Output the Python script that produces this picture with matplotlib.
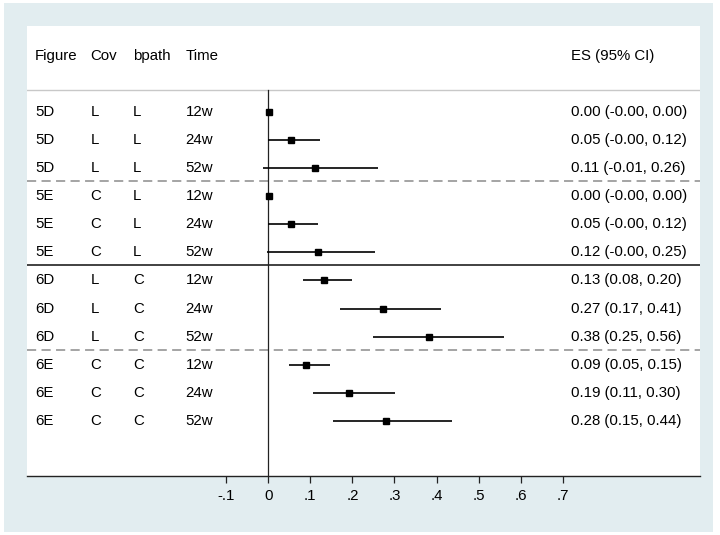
import matplotlib
matplotlib.use("Agg")
import matplotlib.pyplot as plt

plt.rcParams['font.family'] = ['Liberation Sans', 'DejaVu Sans']

figure_ids = ["5D", "5D", "5D", "5E", "5E", "5E", "6D", "6D", "6D", "6E", "6E", "6E"]
cov = ["L", "L", "L", "C", "C", "C", "L", "L", "L", "C", "C", "C"]
bpath = ["L", "L", "L", "L", "L", "L", "C", "C", "C", "C", "C", "C"]
time = ["12w", "24w", "52w"] * 4
es = [0.001, 0.054, 0.112, 0.001, 0.054, 0.118, 0.132, 0.272, 0.381, 0.090, 0.191, 0.280]
lo = [-0.001, -0.001, -0.012, -0.001, -0.001, -0.003, 0.082, 0.170, 0.250, 0.050, 0.107, 0.154]
hi = [0.001, 0.124, 0.262, 0.001, 0.118, 0.253, 0.200, 0.411, 0.560, 0.146, 0.302, 0.436]
xticks = [-0.1, 0, 0.1, 0.2, 0.3, 0.4, 0.5, 0.6, 0.7]
xtick_labels = ["-.1", "0", ".1", ".2", ".3", ".4", ".5", ".6", ".7"]
headers = ["Figure", "Cov", "bpath", "Time"]
es_header = "ES (95% CI)"

W, H = 720, 535
fig = plt.figure(figsize=(W / 100, H / 100), dpi=100)
fig.patch.set_facecolor("white")
bg = fig.add_axes([4 / W, 3 / H, 709 / W, 529 / H], zorder=-10)
bg.set_facecolor("#E2EDF0")
bg.set_xticks([]); bg.set_yticks([])
for s in bg.spines.values():
    s.set_visible(False)

ax = fig.add_axes([27 / W, 59 / H, 672.5 / W, 450 / H], zorder=1)
ax.set_facecolor("white")
ax.set_xlim(-0.5737, 1.0252)
ax.set_ylim(13.96, -2.06)

rows = list(range(1, len(es) + 1))
fs = 10.8
col_x = [-0.5547, -0.4223, -0.3217, -0.1964]
es_x = 0.719

for cx, h in zip(col_x, headers):
    ax.text(cx, -1, h, fontsize=fs, va="center", ha="left", color="black")
ax.text(es_x, -1, es_header, fontsize=fs, va="center", ha="left", color="black")

for r, f, c, b, t, e, l, u in zip(rows, figure_ids, cov, bpath, time, es, lo, hi):
    for cx, s in zip(col_x, [f, c, b, t]):
        ax.text(cx, r, s, fontsize=fs, va="center", ha="left", color="black")
    ax.text(es_x, r, f"{e:.2f} ({l:.2f}, {u:.2f})", fontsize=fs, va="center", ha="left")
    ax.plot([l, u], [r, r], color="black", lw=1.2, solid_capstyle="butt", zorder=3)
    ax.plot([e], [r], marker="s", color="black", markersize=4.8, zorder=4)

# separators
ax.axhline(0.22, color="#C8C8C8", lw=1.0, zorder=2)
ax.axhline(3.47, color="#8C8C8C", lw=1.1, ls=(0, (6, 3.5)), zorder=2)
ax.axhline(6.46, color="#333333", lw=1.3, zorder=2)
ax.axhline(9.47, color="#8C8C8C", lw=1.1, ls=(0, (6, 3.5)), zorder=2)
ax.plot([0, 0], [0.22, 13.96], color="#222222", lw=0.9, zorder=2)

for s in ["top", "right", "left"]:
    ax.spines[s].set_visible(False)
ax.spines["bottom"].set_color("#222222")
ax.spines["bottom"].set_linewidth(1.0)
ax.set_yticks([])
ax.set_xticks(xticks)
ax.set_xticklabels(xtick_labels, fontsize=fs)
ax.tick_params(axis="x", length=5, width=0.9, color="#222222", pad=4)

fig.savefig("out.png", dpi=100)
